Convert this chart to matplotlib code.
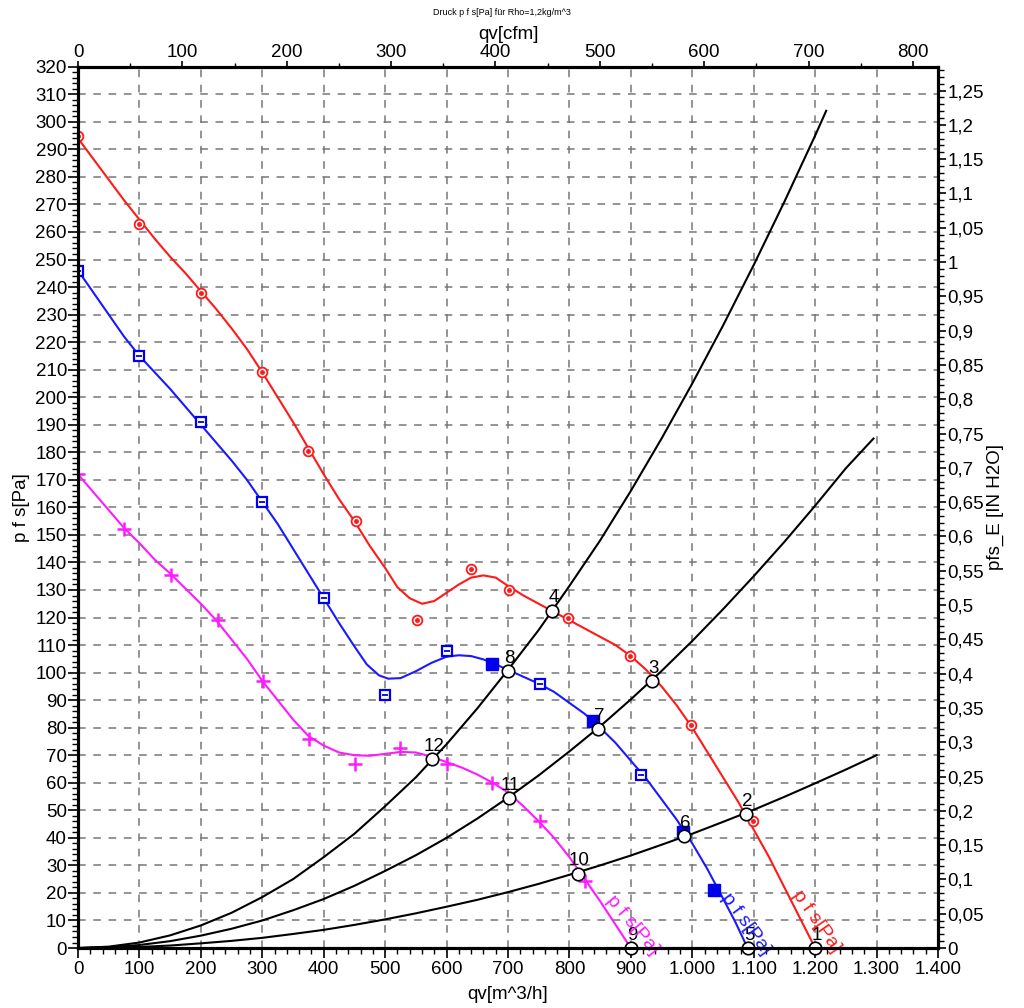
import matplotlib
matplotlib.use("Agg")
import matplotlib.pyplot as plt
from matplotlib.ticker import MultipleLocator, FuncFormatter

plt.rcParams['font.family'] = ['Liberation Sans', 'DejaVu Sans']

red_x = [0, 25, 50, 75, 100, 125, 150, 175, 200, 225, 250, 275, 300, 325, 350, 375, 400, 425, 450, 475, 500, 520, 540, 560,
         580, 600, 620, 640, 660, 680, 700, 725, 750, 775, 800, 825, 850, 875, 900, 925, 950, 975, 1000, 1025, 1050, 1075,
         1100, 1125, 1150, 1175, 1200]
red_y = [294, 286.5, 279, 271.5, 264.5, 257.5, 251, 245, 238.5, 232, 225, 217.5, 209, 200, 191, 181.5, 172, 163, 155, 146, 138, 131, 127, 125,
         126, 129, 132, 134.5, 135.3, 134.5, 131.5, 128, 125, 122, 119, 116, 113, 110, 106, 101, 95, 88, 80, 71, 62, 53,
         43, 33, 22, 11, 0]
red_px = [0, 100, 200, 300, 375, 452, 552, 640, 702, 798, 899, 998, 1099]
red_py = [295, 263, 238, 209, 180.5, 155, 119, 137.5, 130, 120, 106, 81, 46]

# blue curve
blue_x = [0, 25, 50, 75, 100, 125, 150, 175, 200, 225, 250, 275, 300, 325, 350, 375, 400, 425, 450, 470, 490, 505, 525,
          550, 575, 600, 620, 640, 660, 680, 700, 725, 750, 775, 800, 825, 850, 875, 900, 925, 950, 975, 1000, 1025,
          1050, 1070, 1090]
blue_y = [246, 238, 230, 222, 215, 209, 203, 196.5, 190, 183.5, 177, 170, 162, 154, 145, 136, 127, 118, 109.5, 103, 99, 97.8, 98,
          100.5, 103.5, 105.8, 106.3, 106, 104.8, 103, 101, 98.5, 96, 93, 89, 85, 80, 74.5, 68, 61.5, 54, 46.5, 38, 28.5,
          18, 9.5, 0]
blue_px = [0, 100, 200, 300, 400, 500, 601, 752, 917]
blue_py = [246, 215, 191, 162, 127, 92, 108, 96, 63]
blue_fx = [674, 838, 985, 1036]
blue_fy = [103, 82.5, 42, 21]

# magenta curve
mag_x = [0, 25, 50, 75, 100, 125, 150, 175, 200, 225, 250, 275, 300, 325, 350, 375, 400, 425, 450, 475, 500, 525, 550,
         575, 600, 625, 650, 675, 700, 725, 750, 775, 800, 825, 850, 875, 900]
mag_y = [172, 165.5, 159, 152.5, 147, 141, 136, 130.5, 125, 119, 112, 105, 97, 90, 83, 77, 73.5, 71, 70, 69.8, 70.5, 71.2, 71,
         69.5, 67.5, 65.5, 63, 60, 56.5, 51.5, 46, 40, 33, 25, 17, 8.5, 0]
mag_px = [0, 75, 151, 228, 301, 376, 451, 524, 601, 674, 752, 825]
mag_py = [172, 152, 135.5, 119, 97, 76, 67, 72.5, 67, 60, 46, 24.5]

# system curves
sysA_x = [0, 50, 100, 150, 200, 250, 300, 350, 400, 450, 500, 550, 600, 650, 700, 750, 800, 850, 900, 950, 1000, 1050,
          1100, 1150, 1200, 1218]
sysA_y = [0, 0.5, 2, 4.6, 8.2, 12.8, 18.5, 25, 33, 41.5, 51.5, 62, 74, 87, 101, 115.5, 131.5, 148, 166, 185, 205, 226,
          248, 271, 295, 304]
sysB_x = [0, 50, 100, 150, 200, 250, 300, 350, 400, 450, 500, 550, 600, 650, 700, 750, 800, 850, 900, 950, 1000, 1050,
          1100, 1150, 1200, 1250, 1295]
sysB_y = [0, 0.3, 1.1, 2.5, 4.5, 7, 10, 13.7, 17.8, 22.6, 28, 33.7, 40, 47, 54.6, 62.7, 71.4, 80.5, 90.3, 100.6, 111.5, 123,
          135, 147.5, 160.6, 174.2, 185]
sysC_x = [0, 50, 100, 150, 200, 250, 300, 350, 400, 450, 500, 550, 600, 650, 700, 750, 800, 850, 900, 950, 1000, 1050,
          1100, 1150, 1200, 1250, 1300]
sysC_y = [0, 0.1, 0.4, 0.9, 1.7, 2.6, 3.7, 5.1, 6.6, 8.4, 10.4, 12.6, 15, 17.5, 20.3, 23.3, 26.6, 30, 33.6, 37.5, 41.5, 45.8,
          50.2, 54.9, 59.8, 64.8, 70]

# operating points
op_labels = ['1', '2', '3', '4', '5', '6', '7', '8', '9', '10', '11', '12']
op_x = [1200, 1088, 935, 772, 1090, 987, 847, 700, 900, 814, 702, 577]
op_y = [0, 48.7, 97, 122.5, 0, 40.5, 79.5, 100.6, 0, 27, 54.5, 68.6]

fig = plt.figure(figsize=(10.24, 10.08), dpi=100)
ax = fig.add_axes([0.0762, 0.0595, 0.8398, 0.8743])

ax.set_xlim(0, 1400)
ax.set_ylim(0, 320)

grid_kw = dict(color='#777777', lw=1.1, ls=(0, (5, 5)), zorder=0)
for gx in range(100, 1400, 100):
    ax.axvline(gx, **grid_kw)
for gy in range(10, 320, 10):
    ax.axhline(gy, **grid_kw)

for xs, ys in [(sysA_x, sysA_y), (sysB_x, sysB_y), (sysC_x, sysC_y)]:
    ax.plot(xs, ys, color='black', lw=1.5, zorder=2)

ax.plot(red_x, red_y, color='#ff1a1a', lw=1.5, zorder=3)
ax.plot(red_px, red_py, ls='none', marker='o', ms=7, mfc='white', mec='#ff1a1a', mew=1.3, zorder=4)
ax.plot(red_px, red_py, ls='none', marker='o', ms=2.5, color='#ff1a1a', zorder=5)

ax.plot(blue_x, blue_y, color='#1a1aff', lw=1.5, zorder=3)
ax.plot(blue_px, blue_py, ls='none', marker='s', ms=7.5, mfc='white', mec='#0000ee', mew=1.6, zorder=4)
ax.plot(blue_px, blue_py, ls='none', marker='_', ms=4, color='#0000ee', mew=1.3, zorder=5)
ax.plot(blue_fx, blue_fy, ls='none', marker='s', ms=8, color='#0000ee', zorder=4)

ax.plot(mag_x, mag_y, color='#ff1aff', lw=1.5, zorder=3)
ax.plot(mag_px, mag_py, ls='none', marker='+', ms=10, color='#ff1aff', mew=1.8, zorder=4)

ax.plot(op_x, op_y, ls='none', marker='o', ms=9, mfc='white', mec='black', mew=1.2, zorder=6, clip_on=False)
for lab, x, y in zip(op_labels, op_x, op_y):
    ax.annotate(lab, (x, y), xytext=(1, 3), textcoords='offset points',
                ha='center', va='bottom', fontsize=13.5, zorder=7)

for x, y, rot, col in [(902, 8.4, -50, '#ff1aff'), (1087, 8.7, -54, '#1a1aff'), (1203, 9.8, -55, '#ff1a1a')]:
    ax.text(x, y, 'p f s[Pa]', color=col, fontsize=14, rotation=rot,
            ha='center', va='center', rotation_mode='anchor', zorder=7)

ax.xaxis.set_major_locator(MultipleLocator(100))
ax.xaxis.set_minor_locator(MultipleLocator(20))
ax.yaxis.set_major_locator(MultipleLocator(10))
ax.yaxis.set_minor_locator(MultipleLocator(2))
ax.xaxis.set_major_formatter(FuncFormatter(lambda v, p: f"{int(round(v)):,}".replace(",", ".")))
ax.tick_params(which='major', direction='out', length=7, width=1.2, labelsize=13.5)
ax.tick_params(which='minor', direction='out', length=4, width=1)
ax.tick_params(axis='x', pad=2)
ax.tick_params(axis='y', pad=1)
for sp in ax.spines.values():
    sp.set_linewidth(2.2)

ax.set_xlabel('qv[m^3/h]', fontsize=13.5, labelpad=6)
ax.set_ylabel('p f s[Pa]', fontsize=13.5, labelpad=4)

# top axis in cfm
axt = ax.twiny()
axt.set_xlim(0, 1400 * 0.5886)
axt.xaxis.set_major_locator(MultipleLocator(100))
axt.xaxis.set_minor_locator(MultipleLocator(50))
axt.tick_params(which='major', direction='out', length=4, width=1.2, labelsize=13.5, pad=0)
axt.tick_params(which='minor', direction='out', length=3, width=1)
axt.set_xlabel('qv[cfm]', fontsize=13.5, labelpad=4)

# right axis in inch water
axr = ax.twinx()
axr.set_ylim(0, 320 / 249.09)
axr.yaxis.set_major_locator(MultipleLocator(0.05))
axr.yaxis.set_minor_locator(MultipleLocator(0.01))
axr.yaxis.set_major_formatter(FuncFormatter(lambda v, p: f"{v:.2f}".rstrip('0').rstrip('.').replace('.', ',')))
axr.tick_params(which='major', direction='out', length=6, width=1.2, labelsize=13.5, pad=1)
axr.tick_params(which='minor', direction='out', length=4, width=1)
axr.set_ylabel('pfs_E [IN H2O]', fontsize=13.5, labelpad=2)
for a in (axt, axr):
    for sp in a.spines.values():
        sp.set_linewidth(2.2)

fig.text(0.49, 0.988, 'Druck p f s[Pa] für Rho=1,2kg/m^3', ha='center', va='center', fontsize=6.5)

fig.savefig('out.png', dpi=100, facecolor='white')
